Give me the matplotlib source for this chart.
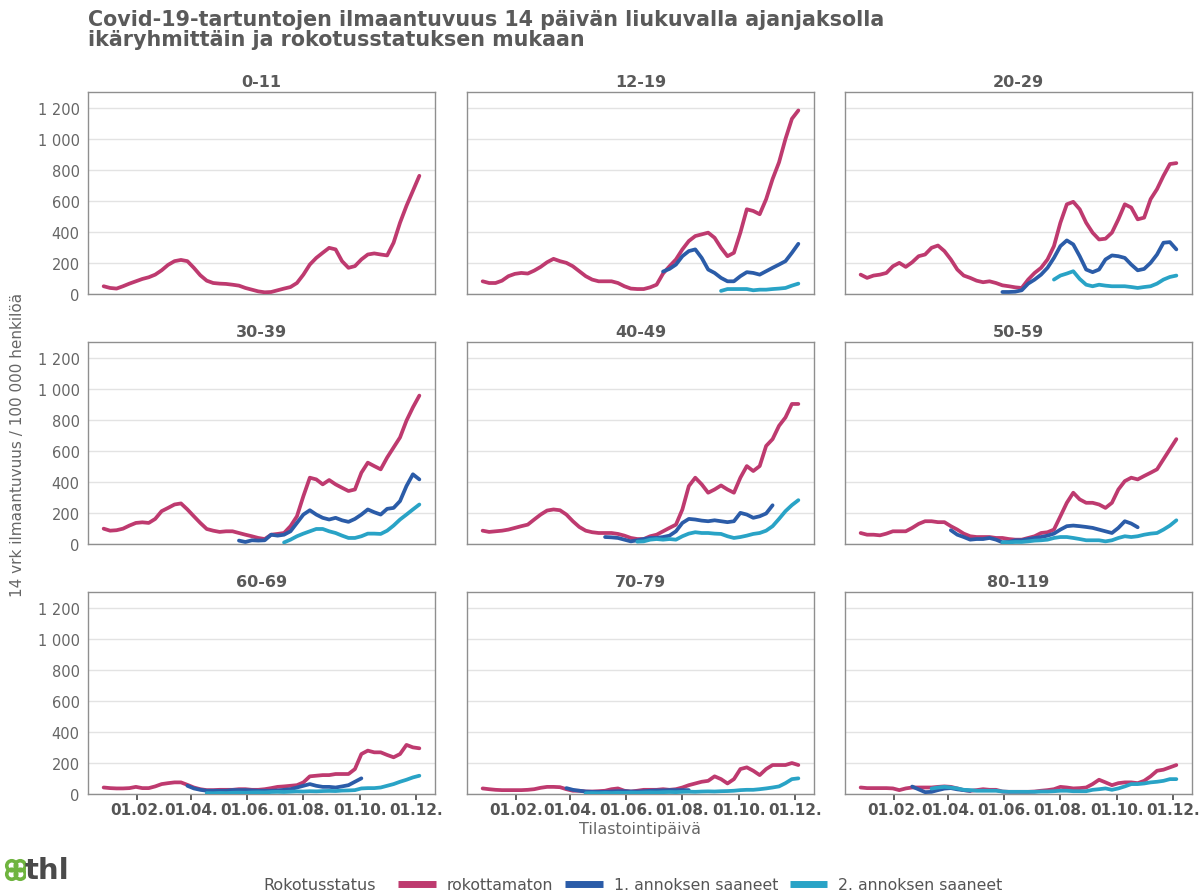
import numpy as np
import pandas as pd
import matplotlib
matplotlib.use("Agg")
import matplotlib.pyplot as plt
import matplotlib.dates as mdates
from matplotlib.ticker import FuncFormatter
from matplotlib.lines import Line2D
from matplotlib.patches import Ellipse

plt.rcParams['font.family'] = ['DejaVu Sans']

# ---------------- data (weekly readings, 14-day incidence / 100 000) ----------------
start_all = "2020-12-27"
age_groups = ["0-11", "12-19", "20-29", "30-39", "40-49", "50-59", "60-69", "70-79", "80-119"]
status_labels = ["rokottamaton", "1. annoksen saaneet", "2. annoksen saaneet"]
status_colors = ["#be3a6f", "#2b5ca8", "#29a3c6"]

rok_0_11 = [50, 39, 35, 50, 67, 82, 97, 108, 125, 153, 188, 212, 220, 212, 169, 121, 86, 71, 67, 65,
            60, 54, 39, 28, 17, 11, 13, 24, 35, 45, 71, 125, 190, 233, 266, 298, 288, 212, 169, 180,
            223, 255, 262, 255, 249, 331, 460, 569, 666, 763]

rok_12_19 = [82, 71, 71, 86, 115, 130, 136, 132, 151, 175, 205, 227, 212, 201, 179, 147, 115, 93, 82, 82,
             82, 71, 50, 35, 32, 32, 43, 60, 132, 179, 223, 288, 342, 374, 385, 396, 363, 298, 244, 266,
             396, 547, 536, 515, 612, 742, 850, 1001, 1131, 1185]
d1_12_19_start = "2021-07-11"
d1_12_19 = [145, 162, 190, 244, 277, 288, 233, 158, 136, 104, 82, 82, 115, 141, 136, 125, 147, 169, 190,
            212, 266, 324]
d2_12_19_start = "2021-09-12"
d2_12_19 = [20, 32, 32, 32, 32, 24, 28, 28, 32, 35, 39, 54, 67]

rok_20_29 = [125, 104, 119, 125, 136, 179, 201, 175, 205, 244, 255, 298, 313, 277, 223, 158, 119, 104, 86, 76,
             82, 71, 56, 50, 43, 39, 93, 136, 169, 223, 309, 460, 579, 595, 547, 460, 396, 352, 357, 396,
             482, 579, 558, 482, 493, 612, 677, 763, 839, 845]
d1_20_29_start = "2021-05-30"
d1_20_29 = [13, 13, 15, 24, 67, 93, 125, 169, 233, 309, 346, 320, 244, 158, 141, 158, 223, 249, 244, 233,
            190, 153, 162, 201, 255, 331, 335, 288]
d2_20_29_start = "2021-07-25"
d2_20_29 = [93, 119, 132, 147, 97, 60, 50, 60, 54, 50, 50, 50, 45, 39, 45, 50, 67, 93, 110, 119]

rok_30_39 = [99, 86, 89, 99, 119, 136, 140, 136, 162, 212, 233, 255, 262, 223, 179, 136, 97, 86, 78, 82,
             82, 71, 60, 50, 39, 32, 60, 65, 71, 115, 179, 309, 428, 417, 385, 413, 385, 363, 342, 352,
             460, 525, 503, 482, 558, 623, 688, 796, 882, 958]
d1_30_39_start = "2021-05-23"
d1_30_39 = [22, 13, 24, 22, 24, 60, 54, 60, 82, 136, 190, 218, 190, 169, 158, 169, 153, 143, 162, 190,
            223, 205, 190, 227, 233, 277, 374, 450, 417]
d2_30_39_start = "2021-07-11"
d2_30_39 = [10, 28, 50, 67, 82, 97, 97, 82, 71, 54, 39, 39, 50, 67, 67, 65, 86, 119, 158, 190, 223, 255]

rok_40_49 = [86, 78, 82, 86, 93, 104, 115, 125, 158, 190, 216, 223, 218, 190, 147, 110, 86, 76, 71, 71,
             71, 65, 54, 39, 32, 32, 50, 60, 82, 104, 125, 223, 374, 428, 385, 331, 352, 378, 352, 331,
             428, 503, 471, 503, 633, 677, 763, 817, 904, 904]
d1_40_49_start = "2021-05-09"
d1_40_49 = [45, 43, 39, 28, 17, 24, 32, 39, 39, 45, 54, 82, 136, 162, 158, 151, 147, 153, 147, 141,
            147, 201, 190, 169, 179, 197, 250]
d2_40_49_start = "2021-06-13"
d2_40_49 = [15, 17, 28, 32, 28, 32, 28, 50, 67, 76, 71, 71, 67, 65, 50, 39, 45, 54, 65, 71,
            86, 115, 162, 212, 251, 283]

rok_50_59 = [71, 60, 60, 56, 67, 82, 82, 82, 104, 130, 147, 147, 141, 141, 115, 93, 67, 50, 45, 45,
             45, 39, 39, 32, 28, 28, 39, 50, 71, 76, 93, 179, 266, 331, 288, 266, 266, 255, 233, 266,
             352, 406, 428, 417, 439, 460, 482, 547, 612, 677]
d1_50_59_start = "2021-04-04"
d1_50_59 = [89, 60, 45, 28, 32, 32, 39, 28, 11, 13, 24, 24, 32, 39, 45, 54, 67, 93, 115, 119,
            115, 110, 104, 93, 82, 71, 104, 147, 132, 108]
d2_50_59_start = "2021-05-30"
d2_50_59 = [11, 11, 13, 13, 17, 22, 24, 28, 39, 45, 45, 39, 32, 24, 24, 24, 17, 24, 39, 50,
            45, 50, 60, 67, 71, 93, 119, 153]

rok_60_69 = [42, 38, 36, 36, 38, 46, 38, 38, 49, 64, 70, 75, 75, 59, 42, 31, 25, 25, 27, 27,
             27, 31, 31, 27, 27, 31, 38, 46, 49, 53, 57, 75, 114, 118, 122, 122, 129, 129, 129, 161,
             258, 280, 269, 269, 252, 237, 258, 317, 301, 295]
d1_60_69_start = "2021-03-28"
d1_60_69 = [53, 36, 27, 21, 21, 21, 21, 25, 25, 25, 23, 21, 21, 21, 23, 27, 31, 42, 53, 64,
            53, 46, 46, 42, 49, 57, 79, 101]
d2_60_69_start = "2021-04-18"
d2_60_69 = [6, 5, 7, 6, 8, 9, 8, 10, 11, 10, 13, 14, 13, 15, 17, 16, 18, 17, 19, 20,
            19, 22, 23, 25, 36, 38, 38, 42, 53, 64, 79, 92, 107, 118]

rok_70_79 = [36, 31, 27, 25, 25, 25, 25, 27, 31, 40, 46, 46, 44, 31, 21, 21, 16, 16, 18, 21,
             31, 36, 21, 16, 21, 27, 27, 27, 31, 27, 31, 42, 57, 68, 79, 85, 114, 96, 68, 96,
             161, 172, 150, 122, 161, 187, 187, 187, 200, 187]
d1_70_79_start = "2021-03-28"
d1_70_79 = [38, 27, 21, 16, 14, 14, 14, 16, 18, 18, 16, 16, 18, 21, 23, 23, 25, 25, 25, 25]
d2_70_79_start = "2021-04-18"
d2_70_79 = [5, 6, 5, 7, 6, 8, 7, 9, 8, 10, 11, 10, 12, 13, 12, 14, 15, 14, 16, 17,
            16, 18, 19, 21, 25, 27, 27, 31, 36, 42, 49, 70, 96, 101]

rok_80_119 = [42, 38, 38, 38, 38, 36, 25, 36, 42, 42, 42, 42, 46, 49, 46, 36, 25, 21, 25, 31,
              27, 27, 16, 14, 14, 14, 14, 16, 21, 25, 31, 46, 42, 36, 38, 42, 64, 92, 75, 57,
              70, 75, 75, 70, 85, 114, 150, 157, 172, 187]
d1_80_119_start = "2021-02-21"
d1_80_119 = [48, 30, 12, 14, 25, 35, 38, 30, 25, 20]
d2_80_119_start = "2021-03-14"
d2_80_119 = [35, 42, 46, 42, 36, 27, 25, 21, 21, 21, 21, 16, 14, 14, 14, 14, 14, 16, 16, 18,
             21, 21, 18, 18, 18, 27, 31, 36, 27, 36, 49, 64, 64, 68, 75, 79, 85, 96, 96]

panels = {
    "0-11": [(rok_0_11, start_all)],
    "12-19": [(rok_12_19, start_all), (d1_12_19, d1_12_19_start), (d2_12_19, d2_12_19_start)],
    "20-29": [(rok_20_29, start_all), (d1_20_29, d1_20_29_start), (d2_20_29, d2_20_29_start)],
    "30-39": [(rok_30_39, start_all), (d1_30_39, d1_30_39_start), (d2_30_39, d2_30_39_start)],
    "40-49": [(rok_40_49, start_all), (d1_40_49, d1_40_49_start), (d2_40_49, d2_40_49_start)],
    "50-59": [(rok_50_59, start_all), (d1_50_59, d1_50_59_start), (d2_50_59, d2_50_59_start)],
    "60-69": [(rok_60_69, start_all), (d1_60_69, d1_60_69_start), (d2_60_69, d2_60_69_start)],
    "70-79": [(rok_70_79, start_all), (d1_70_79, d1_70_79_start), (d2_70_79, d2_70_79_start)],
    "80-119": [(rok_80_119, start_all), (d1_80_119, d1_80_119_start), (d2_80_119, d2_80_119_start)],
}

y_ticks = [0, 200, 400, 600, 800, 1000, 1200]
x_tick_dates = ["2021-02-01", "2021-04-01", "2021-06-01", "2021-08-01", "2021-10-01", "2021-12-01"]

# ---------------- figure ----------------
W, H = 1203, 895
fig = plt.figure(figsize=(W / 100, H / 100), dpi=100)
fig.patch.set_facecolor("white")

col_left = [88, 467, 845]
row_bottom = [295, 545, 795]
pw, ph = 347, 202

gray_txt = "#5a5a5a"
xmin, xmax = pd.Timestamp("2020-12-10"), pd.Timestamp("2021-12-22")

def fmt_thousands(v, pos):
    return f"{int(v):,}".replace(",", " ")

for i, ag in enumerate(age_groups):
    r, c = divmod(i, 3)
    ax = fig.add_axes([col_left[c] / W, 1 - row_bottom[r] / H, pw / W, ph / H])
    for j, (vals, st) in enumerate(panels[ag]):
        dates = pd.date_range(st, periods=len(vals), freq="7D")
        ax.plot(dates, vals, color=status_colors[j], lw=2.7, solid_capstyle="round",
                solid_joinstyle="round", zorder=3 + j)
    ax.set_xlim(xmin, xmax)
    ax.set_ylim(0, 1304)
    ax.set_yticks(y_ticks)
    ax.yaxis.set_major_formatter(FuncFormatter(fmt_thousands))
    ax.grid(axis="y", color="#e3e3e3", lw=1.0, zorder=0)
    ax.grid(axis="x", visible=False)
    ax.set_axisbelow(True)
    for sp in ax.spines.values():
        sp.set_color("#8f8f8f")
        sp.set_linewidth(1.0)
    ax.set_xticks([pd.Timestamp(d) for d in x_tick_dates])
    ax.xaxis.set_major_formatter(mdates.DateFormatter("%d.%m."))
    ax.tick_params(axis="y", length=0, labelsize=10.5, labelcolor="#666666", pad=6)
    if c != 0:
        ax.tick_params(axis="y", labelleft=False)
    if r == 2:
        ax.tick_params(axis="x", length=4, width=1.2, color="#444444", labelsize=11,
                       labelcolor="#555555", pad=2)
        for lab in ax.get_xticklabels():
            lab.set_fontweight("bold")
    else:
        ax.tick_params(axis="x", length=0, labelbottom=False)
    ax.set_title(ag, fontsize=11.5, fontweight="bold", color=gray_txt, pad=4)

# titles and labels
fig.text(88 / W, 1 - 10 / H,
         "Covid-19-tartuntojen ilmaantuvuus 14 päivän liukuvalla ajanjaksolla\n"
         "ikäryhmittäin ja rokotusstatuksen mukaan",
         ha="left", va="top", fontsize=14.9, fontweight="bold", color=gray_txt, linespacing=0.98)
fig.text(18 / W, 1 - 445 / H, "14 vrk ilmaantuvuus / 100 000 henkilöä", rotation=90,
         ha="center", va="center", fontsize=11, color="#666666")
fig.text(640 / W, 1 - 830 / H, "Tilastointipäivä", ha="center", va="center",
         fontsize=11.5, color="#666666")

# legend
fig.text(263 / W, 1 - 886 / H, "Rokotusstatus", ha="left", va="center", fontsize=11.5, color="#555555")
handles = [Line2D([0], [0], color=col, lw=5, solid_capstyle="butt") for col in status_colors]
fig.legend(handles, status_labels, loc="center left", bbox_to_anchor=(398 / W, 1 - 886 / H),
           ncol=3, frameon=False, fontsize=11.3, handlelength=2.4, handletextpad=0.7,
           columnspacing=0.75, borderpad=0, borderaxespad=0, labelcolor="#555555")

# thl logo
lax = fig.add_axes([0, 1 - 889 / H, 26 / W, 36 / H])
lax.set_xlim(-13, 13)
lax.set_ylim(-18, 18)
lax.axis("off")
green = "#6fb43f"
for ang in [45, 135, 225, 315]:
    a = np.deg2rad(ang)
    lax.add_patch(Ellipse((3 + 6 * np.cos(a), 6 * np.sin(a)), 10, 10, angle=ang,
                          facecolor="none", edgecolor=green, lw=2.6))
fig.text(25 / W, 1 - 871 / H, "thl", ha="left", va="center", fontsize=21, fontweight="bold",
         color="#4a4a4a")

fig.savefig("out.png", dpi=100, facecolor="white")
